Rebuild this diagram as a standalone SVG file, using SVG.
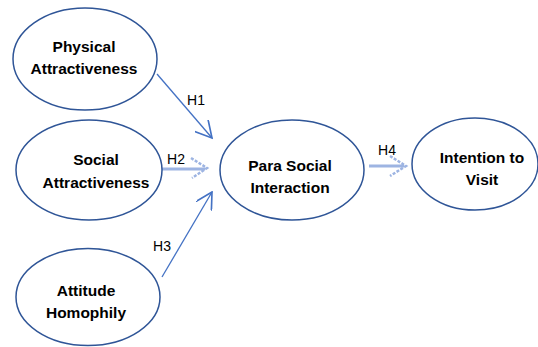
<svg xmlns="http://www.w3.org/2000/svg" width="538" height="347" viewBox="0 0 538 347">
<style>
.node ellipse{fill:#fff;stroke:#2F5597;stroke-width:1.5}
.lbl{font-family:"Liberation Sans",Arial,sans-serif;font-weight:bold;font-size:15.5px;fill:#000;text-anchor:middle}
.h{font-family:"Liberation Sans",Arial,sans-serif;font-size:14px;fill:#000;text-anchor:middle}
.ln{stroke:#4472C4;stroke-width:1.3;fill:none}
.blk{stroke:#9DB4E2;stroke-width:3;fill:none}
.chev{stroke:#9DB4E2;stroke-width:2.5;fill:none;stroke-dasharray:3 1.5}
</style>
<defs>
<marker id="open" viewBox="0 0 12 12" refX="11" refY="6" markerWidth="18" markerHeight="18" markerUnits="userSpaceOnUse" orient="auto">
<path d="M0,0 L11,6 L0,12" fill="none" stroke="#4472C4" stroke-width="1.1"/>
</marker>
</defs>
<g id="connectors">
<line class="ln" x1="157" y1="74" x2="212" y2="138" marker-end="url(#open)"/>
<line class="ln" x1="162" y1="277" x2="212" y2="192" marker-end="url(#open)"/>
<line class="blk" x1="162" y1="169" x2="205" y2="169"/>
<polyline class="chev" points="191,158 207,168 192,178"/>
<line class="blk" x1="369" y1="166" x2="404" y2="166"/>
<polyline class="chev" points="390,156 406,166 390,176"/>
<text class="h" x="196" y="105">H1</text>
<text class="h" x="176" y="164">H2</text>
<text class="h" x="162" y="251">H3</text>
<text class="h" x="387" y="155">H4</text>
</g>
<g id="physical" class="node">
<ellipse cx="85" cy="59" rx="72" ry="51"/>
<text class="lbl" x="84" y="52">Physical</text>
<text class="lbl" x="84" y="74">Attractiveness</text>
</g>
<g id="social" class="node">
<ellipse cx="89" cy="170" rx="73" ry="50"/>
<text class="lbl" x="96" y="165">Social</text>
<text class="lbl" x="96" y="188">Attractiveness</text>
</g>
<g id="attitude" class="node">
<ellipse cx="88" cy="297" rx="72" ry="48.5"/>
<text class="lbl" x="86" y="296">Attitude</text>
<text class="lbl" x="86" y="318">Homophily</text>
</g>
<g id="parasocial" class="node">
<ellipse cx="292" cy="170" rx="72" ry="50"/>
<text class="lbl" x="290" y="171">Para Social</text>
<text class="lbl" x="290" y="193">Interaction</text>
</g>
<g id="intention" class="node">
<ellipse cx="475" cy="164" rx="63" ry="46"/>
<text class="lbl" x="482" y="163">Intention to</text>
<text class="lbl" x="482" y="185">Visit</text>
</g>
</svg>
